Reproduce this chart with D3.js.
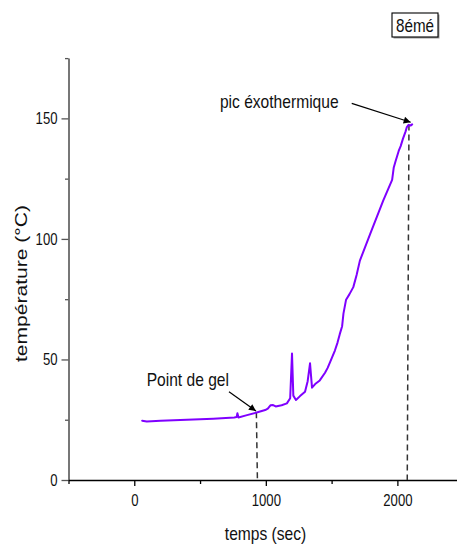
<!DOCTYPE html>
<html>
<head>
<meta charset="utf-8">
<script src="https://cdn.jsdelivr.net/npm/d3@7"></script>
<style>
  html, body { margin: 0; padding: 0; background: #fff; }
  svg { display: block; }
  text { font-family: "Liberation Sans", Arial, sans-serif; fill: #111; }
</style>
</head>
<body>
<svg id="chart" width="457" height="545"></svg>
<script>
// Temperature record of the curing run (time in s, temperature in °C)
const timeSec = [60, 95, 200, 400, 600, 760, 778, 784, 792, 850, 930, 995, 1015, 1035, 1055, 1075,
  1120, 1160, 1185, 1199, 1209, 1229, 1260, 1298, 1318, 1336, 1351, 1375, 1410, 1450, 1470, 1490,
  1525, 1545, 1562, 1580, 1590, 1610, 1635, 1665, 1690, 1715, 1800, 1893, 1960, 1972, 1985, 2010,
  2025, 2042, 2062, 2072, 2085, 2100, 2112];
const tempC = [24.6, 24.3, 24.6, 25.0, 25.4, 25.9, 26.1, 27.7, 25.9, 26.8, 28.0, 29.0, 29.6, 31.0, 31.1, 30.5,
  31.0, 31.8, 33.9, 52.5, 35.0, 33.2, 34.8, 36.6, 41.0, 48.4, 38.3, 39.8, 41.3, 44.5, 46.5, 49.1,
  53.7, 57.0, 60.5, 63.8, 69.0, 74.8, 77.0, 80.0, 85.0, 91.0, 103.0, 116.0, 124.5, 129.5, 132.0, 136.5,
  138.5, 141.5, 144.5, 146.4, 147.3, 147.0, 147.5];

// Axis ticks
const xMajorTicks = [0, 1000, 2000];
const xMinorTicks = [-500, 500, 1500];
const yMajorTicks = [0, 50, 100, 150];
const yMinorTicks = [25, 75, 125, 175];

// Marked events: gel point and exothermic peak (guide lines and arrows in data units)
const gelGuide = [[928, 28.1], [936, 0]];
const peakGuide = [[2088, 147.5], [2075, 0]];
const gelArrow = [[720, 36.6], [925, 28.6]];
const peakArrow = [[1653, 156.2], [2101, 148.4]];
const gelLabel = { text: "Point de gel", t: 94, T: 38.8 };
const peakLabel = { text: "pic éxothermique", t: 651, T: 154.3 };

const svg = d3.select("#chart");

const x = d3.scaleLinear().domain([-500, 2460]).range([68.5, 457.9]);
const y = d3.scaleLinear().domain([0, 175]).range([480, 58.1]);

svg.append("defs").append("marker")
  .attr("id", "arrowhead")
  .attr("viewBox", "0 0 10 10")
  .attr("refX", 10).attr("refY", 5)
  .attr("markerWidth", 10).attr("markerHeight", 7)
  .attr("markerUnits", "userSpaceOnUse")
  .attr("orient", "auto")
  .append("path").attr("d", "M0,0 L10,5 L0,10 Z").attr("fill", "#000");

// Y axis (grey), major + minor ticks
const yAxis = svg.append("g").attr("transform", "translate(68.5,0)")
  .call(d3.axisLeft(y).tickValues(yMajorTicks).tickFormat(d3.format("d"))
    .tickSize(7).tickSizeOuter(0).tickPadding(4));
yAxis.select(".domain").attr("stroke", "#555").attr("stroke-width", 1.6);
yAxis.selectAll(".tick line").attr("stroke", "#555").attr("stroke-width", 1.3);
yAxis.selectAll(".tick text").attr("font-size", 16).attr("fill", "#222").attr("class", "narrow")
  .style("font-family", null);
const yMinor = svg.append("g").attr("transform", "translate(68.5,0)")
  .call(d3.axisLeft(y).tickValues(yMinorTicks).tickSize(3.5).tickFormat(""));
yMinor.select(".domain").remove();
yMinor.selectAll(".tick line").attr("stroke", "#555").attr("stroke-width", 1.3);

// X axis (black), major + minor ticks
const xAxis = svg.append("g").attr("transform", "translate(0,480)")
  .call(d3.axisBottom(x).tickValues(xMajorTicks).tickFormat(d3.format("d"))
    .tickSize(6).tickSizeOuter(0).tickPadding(9));
xAxis.select(".domain").attr("stroke", "#000").attr("stroke-width", 1.6);
xAxis.selectAll(".tick line").attr("stroke", "#000").attr("stroke-width", 1.3);
xAxis.selectAll(".tick text").attr("font-size", 16).attr("fill", "#222").attr("class", "narrow");
const xMinor = svg.append("g").attr("transform", "translate(0,480)")
  .call(d3.axisBottom(x).tickValues(xMinorTicks).tickSize(4).tickFormat(""));
xMinor.select(".domain").remove();
xMinor.selectAll(".tick line").attr("stroke", "#000").attr("stroke-width", 1.3);
svg.selectAll("g").attr("font-family", null);

// Axis titles
svg.append("text").attr("class", "narrow")
  .attr("x", 265.5).attr("y", 540)
  .attr("text-anchor", "middle").attr("font-size", 19)
  .text("temps (sec)");
svg.append("text")
  .attr("transform", "translate(27,283.5) rotate(-90)")
  .attr("text-anchor", "middle").attr("font-size", 16)
  .attr("textLength", 157).attr("lengthAdjust", "spacingAndGlyphs")
  .text("température (°C)");

// Dashed guide lines
const line = d3.line().x(d => x(d[0])).y(d => y(d[1]));
[gelGuide, peakGuide].forEach(g => {
  svg.append("path").attr("d", line(g))
    .attr("fill", "none").attr("stroke", "#333").attr("stroke-width", 1.5)
    .attr("stroke-dasharray", "6,4");
});

// Temperature curve
const series = timeSec.map((t, i) => [t, tempC[i]]);
svg.append("path")
  .datum(series)
  .attr("d", line)
  .attr("fill", "none")
  .attr("stroke", "#7f00ff")
  .attr("stroke-width", 2)
  .attr("stroke-linejoin", "round")
  .attr("stroke-linecap", "round");

// Annotation arrows
[gelArrow, peakArrow].forEach(a => {
  svg.append("path").attr("d", line(a))
    .attr("fill", "none").attr("stroke", "#000").attr("stroke-width", 1.2)
    .attr("marker-end", "url(#arrowhead)");
});

// Annotation labels
[gelLabel, peakLabel].forEach(l => {
  svg.append("text").attr("class", "narrow")
    .attr("x", x(l.t)).attr("y", y(l.T))
    .attr("font-size", 19)
    .text(l.text);
});

// Sample tag, top right
const tag = svg.append("g").attr("transform", "translate(392,13)");
tag.append("rect").attr("x", 1.5).attr("y", 1.5).attr("width", 46).attr("height", 24)
  .attr("fill", "#999");
tag.append("rect").attr("x", 0).attr("y", 0).attr("width", 46).attr("height", 24)
  .attr("fill", "#fff").attr("stroke", "#000").attr("stroke-width", 1.1);
tag.append("text").attr("class", "narrow").attr("x", 23).attr("y", 18.5).attr("text-anchor", "middle")
  .attr("font-size", 18.5).text("8émé");

// Condensed lettering: squeeze each label to 82% of its natural width
svg.selectAll("text.narrow").each(function () {
  const w = this.getComputedTextLength();
  d3.select(this).attr("textLength", (w * 0.82).toFixed(1)).attr("lengthAdjust", "spacingAndGlyphs");
});
</script>
</body>
</html>
